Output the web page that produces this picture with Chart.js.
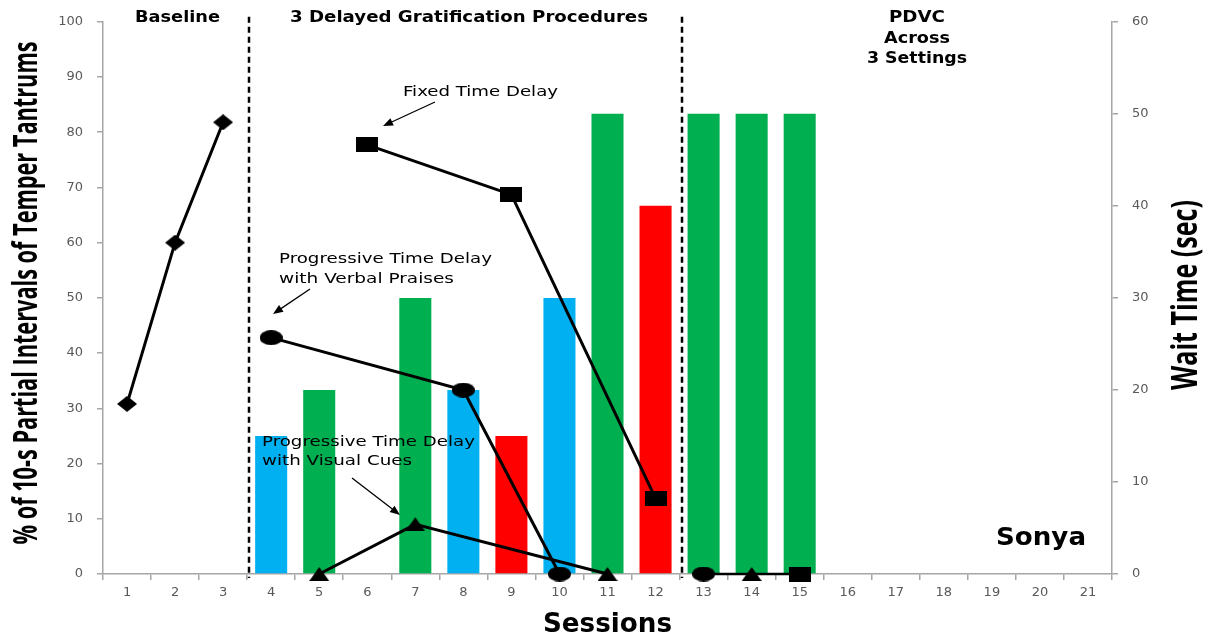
<!DOCTYPE html>
<html>
<head>
<meta charset="utf-8">
<script src="https://cdn.jsdelivr.net/npm/chart.js@4/dist/chart.umd.min.js"></script>
<style>
  html, body { margin: 0; padding: 0; background: #fff; }
</style>
</head>
<body>
<canvas id="myChart" width="1217" height="637"></canvas>
<script>
const sessions = ['1', '2', '3', '4', '5', '6', '7', '8', '9', '10', '11',
                  '12', '13', '14', '15', '16', '17', '18', '19', '20', '21'];

// % of intervals with tantrums (left axis)
const baselineSessions = [1, 2, 3];
const baselineValues = [30.8, 60, 81.8];
const fixedSessions = [6, 9, 12, 15];
const fixedValues = [77.7, 68.7, 13.7, 0];
const verbalSessions = [4, 8, 10, 13];
const verbalValues = [42.8, 33.3, 0, 0];
const visualSessions = [5, 7, 11, 14];
const visualValues = [0, 9, 0, 0];
const pdvcSessions = [13, 14, 15];
const pdvcValues = [0, 0, 0];

// wait time in seconds (right axis)
const waitSessions = [4, 5, 6, 7, 8, 9, 10, 11, 12, 13, 14, 15];
const waitValues = [15, 20, 0, 30, 20, 15, 30, 50, 40, 50, 50, 50];
const waitProcedure = ['verbal', 'visual', 'fixed', 'visual', 'verbal', 'fixed',
                       'verbal', 'visual', 'fixed', 'pdvc', 'pdvc', 'pdvc'];

const procColors = { verbal: '#00B0F0', visual: '#00B050', fixed: '#FF0000', pdvc: '#00B050' };

// session index after which the phase changes
const phaseBreaks = [3, 12];

function pts(s, v) {
    return s.map((n, i) => ({ x: String(n), y: v[i] }));
}

function makeMarker(shape, w, h) {
    const c = document.createElement('canvas');
    c.width = w;
    c.height = h;
    const g = c.getContext('2d');
    g.fillStyle = '#000';
    g.beginPath();
    if (shape === 'diamond') {
        g.moveTo(w / 2, 0); g.lineTo(w, h / 2); g.lineTo(w / 2, h); g.lineTo(0, h / 2);
    } else if (shape === 'square') {
        g.rect(0, 0, w, h);
    } else if (shape === 'circle') {
        g.ellipse(w / 2, h / 2, w / 2, h / 2, 0, 0, Math.PI * 2);
    } else {
        g.moveTo(w / 2, 0); g.lineTo(w, h); g.lineTo(0, h);
    }
    g.closePath();
    g.fill();
    return c;
}

const diamond = makeMarker('diamond', 20, 16);
const square = makeMarker('square', 22, 15);
const ellipse = makeMarker('circle', 23, 15);
const triangle = makeMarker('triangle', 20, 14);

// hide line segments that cross into the PDVC phase
const crossPhase = ctx => (ctx.p0.parsed.x < 12 && ctx.p1.parsed.x >= 12) ? 'rgba(0,0,0,0)' : undefined;

function lineSet(label, data, marker) {
    return {
        type: 'line',
        label: label,
        data: data,
        yAxisID: 'y',
        borderColor: '#000',
        borderWidth: 3,
        pointStyle: marker,
        pointRadius: 10,
        pointHoverRadius: 10,
        fill: false,
        clip: false,
        order: 1,
        segment: { borderColor: crossPhase }
    };
}

function stretchText(ctx, text, x, y, o) {
    ctx.save();
    ctx.translate(x, y);
    if (o.rotate) ctx.rotate(o.rotate);
    ctx.font = o.font;
    const w = ctx.measureText(text).width;
    const sx = o.width ? o.width / w : 1;
    ctx.scale(sx, 1);
    ctx.textAlign = o.align || 'left';
    ctx.textBaseline = 'alphabetic';
    ctx.fillStyle = '#000';
    ctx.fillText(text, 0, 0);
    ctx.restore();
}

function arrow(ctx, x1, y1, x2, y2) {
    const a = Math.atan2(y2 - y1, x2 - x1);
    ctx.save();
    ctx.strokeStyle = '#000';
    ctx.fillStyle = '#000';
    ctx.lineWidth = 1.3;
    ctx.beginPath();
    ctx.moveTo(x1, y1);
    ctx.lineTo(x2 - 6 * Math.cos(a), y2 - 6 * Math.sin(a));
    ctx.stroke();
    ctx.beginPath();
    ctx.moveTo(x2, y2);
    ctx.lineTo(x2 - 10 * Math.cos(a) + 4 * Math.sin(a), y2 - 10 * Math.sin(a) - 4 * Math.cos(a));
    ctx.lineTo(x2 - 10 * Math.cos(a) - 4 * Math.sin(a), y2 - 10 * Math.sin(a) + 4 * Math.cos(a));
    ctx.closePath();
    ctx.fill();
    ctx.restore();
}

const overlay = {
    id: 'overlay',
    afterDraw(chart) {
        const ctx = chart.ctx;
        const x = chart.scales.x;
        const area = chart.chartArea;

        // phase change lines
        ctx.save();
        ctx.strokeStyle = '#000';
        ctx.lineWidth = 2.5;
        ctx.setLineDash([6, 4]);
        phaseBreaks.forEach(b => {
            const px = Math.round(x.getPixelForValue(b - 0.5)) + 2;
            ctx.beginPath();
            ctx.moveTo(px, area.top - 5);
            ctx.lineTo(px, area.bottom + 4);
            ctx.stroke();
        });
        ctx.restore();

        const head = "bold 15px 'DejaVu Sans'";
        const note = "14px 'DejaVu Sans'";
        stretchText(ctx, 'Baseline', 135, 22, { font: head, width: 85 });
        stretchText(ctx, '3 Delayed Gratification Procedures', 290, 22, { font: head, width: 358 });
        stretchText(ctx, 'PDVC', 917, 22, { font: head, width: 56, align: 'center' });
        stretchText(ctx, 'Across', 917, 43, { font: head, width: 66, align: 'center' });
        stretchText(ctx, '3 Settings', 917, 63, { font: head, width: 100, align: 'center' });

        stretchText(ctx, 'Fixed Time Delay', 403, 96, { font: note, width: 155 });
        stretchText(ctx, 'Progressive Time Delay', 279, 263, { font: note, width: 213 });
        stretchText(ctx, 'with Verbal Praises', 279, 283, { font: note, width: 175 });
        stretchText(ctx, 'Progressive Time Delay', 262, 446, { font: note, width: 213 });
        stretchText(ctx, 'with Visual Cues', 262, 465, { font: note, width: 150 });

        arrow(ctx, 435, 102, 383, 126);
        arrow(ctx, 310, 289, 273, 314);
        arrow(ctx, 352, 478, 400, 515);

        stretchText(ctx, 'Sonya', 996, 545, { font: "bold 25px 'DejaVu Sans'", width: 90 });
        stretchText(ctx, 'Sessions', 543, 632, { font: "bold 26px 'DejaVu Sans'", width: 129 });

        stretchText(ctx, '% of 10-s Partial Intervals of Temper Tantrums', 37, 293,
            { font: "bold 34px 'Open Sans'", width: 503, align: 'center', rotate: -Math.PI / 2 });
        stretchText(ctx, 'Wait Time (sec)', 1197, 295,
            { font: "bold 35px 'Open Sans'", width: 190, align: 'center', rotate: -Math.PI / 2 });
    }
};

const tickFont = { family: "'DejaVu Sans'", size: 13 };
const gray = '#A6A6A6';

new Chart(document.getElementById('myChart'), {
    type: 'bar',
    data: {
        labels: sessions,
        datasets: [
            {
                label: 'Wait Time',
                data: pts(waitSessions, waitValues),
                yAxisID: 'y2',
                backgroundColor: waitProcedure.map(p => procColors[p]),
                borderWidth: 0,
                barPercentage: 0.667,
                categoryPercentage: 1,
                order: 10
            },
            lineSet('Baseline', pts(baselineSessions, baselineValues), diamond),
            lineSet('Fixed Time Delay', pts(fixedSessions, fixedValues), square),
            lineSet('Progressive Time Delay with Verbal Praises', pts(verbalSessions, verbalValues), ellipse),
            lineSet('Progressive Time Delay with Visual Cues', pts(visualSessions, visualValues), triangle),
            Object.assign(lineSet('PDVC', pts(pdvcSessions, pdvcValues), 'circle'),
                { borderWidth: 2.5, pointRadius: 0, pointHoverRadius: 0, order: 2 })
        ]
    },
    options: {
        responsive: false,
        animation: false,
        devicePixelRatio: 1,
        layout: { padding: { top: 20, left: 0, right: 0, bottom: 0 } },
        plugins: {
            legend: { display: false },
            tooltip: { enabled: false }
        },
        scales: {
            x: {
                type: 'category',
                offset: true,
                grid: { offset: true, drawOnChartArea: false, tickLength: 6, color: gray, lineWidth: 1.5 },
                border: { color: gray, width: 1.5 },
                ticks: { color: '#595959', font: tickFont, padding: 5, maxRotation: 0, autoSkip: false },
                afterFit: s => { s.height = 63; }
            },
            y: {
                position: 'left',
                min: 0,
                max: 100,
                ticks: { stepSize: 10, color: '#595959', font: tickFont, padding: 14 },
                grid: { drawOnChartArea: false, tickLength: 6, color: gray, lineWidth: 1.5 },
                border: { color: gray, width: 1.5 },
                afterFit: s => { s.width = 103; }
            },
            y2: {
                position: 'right',
                min: 0,
                max: 60,
                ticks: { stepSize: 10, color: '#595959', font: tickFont, padding: 14 },
                grid: { drawOnChartArea: false, tickLength: 6, color: gray, lineWidth: 1.5 },
                border: { color: gray, width: 1.5 },
                afterFit: s => { s.width = 105; }
            }
        }
    },
    plugins: [overlay]
});
</script>
</body>
</html>
